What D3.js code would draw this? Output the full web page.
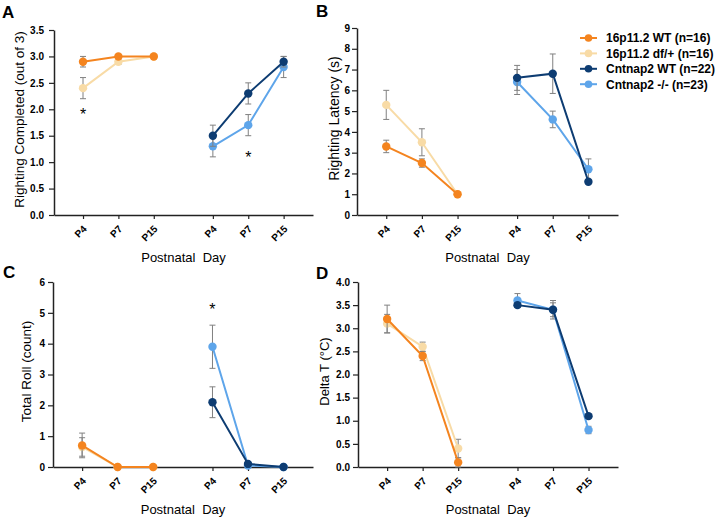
<!DOCTYPE html>
<html><head><meta charset="utf-8">
<script src="https://cdn.jsdelivr.net/npm/d3@7"></script>
<style>
body{margin:0;background:#fff;}
svg{display:block;font-family:"Liberation Sans",Arial,sans-serif;}
</style></head><body>
<svg id="c" width="720" height="517"></svg>
<script>
// ---------- data ----------
const days = ["P4", "P7", "P15"];
const seriesNames = ["16p11.2 WT (n=16)", "16p11.2 df/+ (n=16)", "Cntnap2 WT (n=22)", "Cntnap2 -/- (n=23)"];
const seriesGroup = [0, 0, 1, 1];
const seriesColors = ["#F4841F", "#F8DBA6", "#0D3C72", "#5EA5EA"];

const rightingCompleted    = [[2.9, 3.0, 3.0], [2.4, 2.9, 3.0], [1.5, 2.3, 2.9], [1.3, 1.7, 2.8]];
const rightingCompletedErr = [[0.1, 0.02, 0], [0.2, 0.05, 0], [0.2, 0.2, 0.1], [0.2, 0.2, 0.2]];
const rightingLatency      = [[3.3, 2.5, 1.0], [5.3, 3.5, 1.0], [6.6, 6.8, 1.6], [6.4, 4.6, 2.2]];
const rightingLatencyErr   = [[0.3, 0.2, 0.05], [0.7, 0.65, 0.05], [0.6, 0.95, 0.1], [0.6, 0.4, 0.5]];
const totalRoll            = [[0.7, 0, 0], [0.65, 0, 0], [2.1, 0.1, 0], [3.9, 0.05, 0]];
const totalRollErr         = [[0.4, 0, 0], [0.3, 0, 0], [0.5, 0.05, 0], [0.7, 0, 0]];
const deltaT               = [[3.2, 2.4, 0.1], [3.1, 2.6, 0.4], [3.5, 3.4, 1.1], [3.6, 3.4, 0.8]];
const deltaTErr            = [[0.3, 0.1, 0.1], [0.2, 0.1, 0.2], [0.05, 0.15, 0.05], [0.15, 0.2, 0.08]];

const ticksA = [0, 0.5, 1, 1.5, 2, 2.5, 3, 3.5];
const ticksB = [0, 1, 2, 3, 4, 5, 6, 7, 8, 9];
const ticksC = [0, 1, 2, 3, 4, 5, 6];
const ticksD = [0, 0.5, 1, 1.5, 2, 2.5, 3, 3.5, 4];

// significance marks: [group, dayIndex, yValue]
const starsA = [[0, 0, 1.95], [1, 1, 1.13]];
const starsC = [[1, 0, 5.2]];

// ---------- layout ----------
const svg = d3.select("#c");
const GROUP_OFFSET = 3.67;
const drawOrder = [1, 0, 3, 2];

const panels = [
  {letter: "A", lx: 2, ly: 18, left: 54, right: 313, top: 30, bottom: 215, yMax: 3.5, ticks: ticksA, fmt: d3.format(".1f"), pad: 5,
   vals: rightingCompleted, errs: rightingCompletedErr, title: "Righting Completed (out of 3)", tfs: 13.5, tx: 24, stars: starsA},
  {letter: "B", lx: 316, ly: 17, left: 357, right: 618, top: 28, bottom: 215, yMax: 9, ticks: ticksB, fmt: d3.format("d"), pad: 2,
   vals: rightingLatency, errs: rightingLatencyErr, title: "Righting Latency (s)", tfs: 14, tx: 339, stars: []},
  {letter: "C", lx: 3, ly: 278, left: 53, right: 313, top: 282, bottom: 467, yMax: 6, ticks: ticksC, fmt: d3.format("d"), pad: 3,
   vals: totalRoll, errs: totalRollErr, title: "Total Roll (count)", tfs: 13.5, tx: 31, stars: starsC},
  {letter: "D", lx: 316, ly: 279, left: 358, right: 618, top: 282, bottom: 467, yMax: 4, ticks: ticksD, fmt: d3.format(".1f"), pad: 3,
   vals: deltaT, errs: deltaTErr, title: "Delta T (\u00B0C)", tfs: 13, tx: 329, stars: []}
];

panels.forEach(p => {
  const g = svg.append("g");
  const x = d3.scaleLinear().domain([-0.82, 6.5]).range([p.left, p.right]);
  const y = d3.scaleLinear().domain([0, p.yMax]).range([p.bottom, p.top]);
  const pos = (grp, di) => x(grp * GROUP_OFFSET + di);

  // panel letter
  g.append("text").attr("x", p.lx).attr("y", p.ly).attr("font-size", 17).attr("font-weight", "bold").text(p.letter);

  // y axis
  const ya = g.append("g").attr("transform", `translate(${p.left},0)`)
    .call(d3.axisLeft(y).tickValues(p.ticks).tickFormat(p.fmt).tickSize(5).tickSizeOuter(0).tickPadding(p.pad));
  ya.selectAll("text").attr("font-size", 10).attr("font-weight", "bold").attr("fill", "#000").attr("font-family", "Liberation Sans, Arial, sans-serif");
  ya.selectAll("line").attr("stroke", "#222").attr("stroke-width", 1.2);
  ya.select(".domain").attr("stroke", "#222").attr("stroke-width", 1.5);

  // x axis
  const tickPos = [];
  [0, 1].forEach(grp => days.forEach((d, di) => tickPos.push({grp, di, label: d})));
  const xa = g.append("g").attr("transform", `translate(0,${p.bottom})`)
    .call(d3.axisBottom(x).tickValues(tickPos.map(t => t.grp * GROUP_OFFSET + t.di)).tickFormat("").tickSize(4).tickSizeOuter(0));
  xa.selectAll("line").attr("stroke", "#222").attr("stroke-width", 1.2);
  xa.select(".domain").attr("stroke", "#222").attr("stroke-width", 1.5);
  g.selectAll(".xl").data(tickPos).enter().append("text")
    .attr("transform", t => `translate(${pos(t.grp, t.di) + 2},${p.bottom + 12}) rotate(-45)`)
    .attr("text-anchor", "end").attr("dy", "0.35em")
    .attr("font-size", 10).attr("font-weight", "bold").text(t => t.label);

  // axis titles
  g.append("text").attr("transform", `translate(${p.tx},${(p.top + p.bottom) / 2 - 3}) rotate(-90)`)
    .attr("text-anchor", "middle").attr("font-size", p.tfs).text(p.title);
  g.append("text").attr("x", (p.left + p.right) / 2).attr("y", p.bottom + 47)
    .attr("text-anchor", "middle").attr("font-size", 13)
    .style("white-space", "pre").text("Postnatal  Day");

  // series
  drawOrder.forEach(si => {
    const grp = seriesGroup[si];
    const col = seriesColors[si];
    const vals = p.vals[si], errs = p.errs[si];
    const eg = g.append("g").attr("stroke", "#808080").attr("stroke-width", 1);
    vals.forEach((v, di) => {
      const e = errs[di];
      if (e > 0) {
        const cx = pos(grp, di);
        eg.append("line").attr("x1", cx).attr("x2", cx).attr("y1", y(v - e)).attr("y2", y(v + e));
        eg.append("line").attr("x1", cx - 3).attr("x2", cx + 3).attr("y1", y(v + e)).attr("y2", y(v + e));
        eg.append("line").attr("x1", cx - 3).attr("x2", cx + 3).attr("y1", y(v - e)).attr("y2", y(v - e));
      }
    });
    g.append("path").datum(vals)
      .attr("fill", "none").attr("stroke", col).attr("stroke-width", 2)
      .attr("d", d3.line().x((v, di) => pos(grp, di)).y(v => y(v)));
    g.selectAll(null).data(vals).enter().append("circle")
      .attr("cx", (v, di) => pos(grp, di)).attr("cy", v => y(v)).attr("r", 4.2).attr("fill", col);
  });

  // stars
  p.stars.forEach(s => {
    g.append("text").attr("x", pos(s[0], s[1])).attr("y", y(s[2]) + 8)
      .attr("text-anchor", "middle").attr("font-size", 16).text("*");
  });
});

// legend
const leg = svg.append("g");
seriesNames.forEach((n, i) => {
  const yy = 38 + i * 15.4;
  leg.append("line").attr("x1", 580).attr("x2", 597).attr("y1", yy).attr("y2", yy)
    .attr("stroke", seriesColors[i]).attr("stroke-width", 2);
  leg.append("circle").attr("cx", 588.5).attr("cy", yy).attr("r", 3.8).attr("fill", seriesColors[i]);
  leg.append("text").attr("x", 606).attr("y", yy).attr("dy", "0.36em")
    .attr("font-size", 12).attr("font-weight", "bold").text(n);
});
</script>
</body></html>
